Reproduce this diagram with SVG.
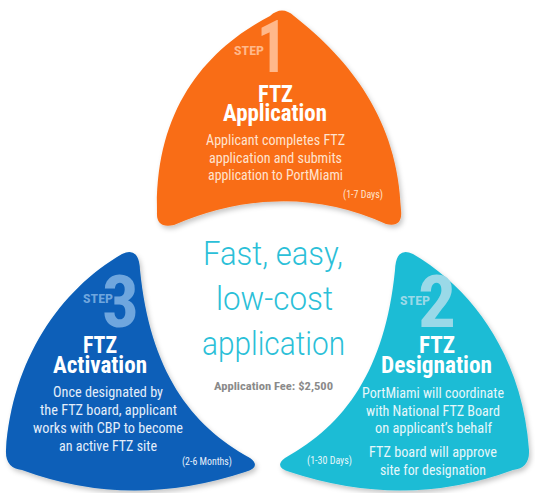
<svg xmlns="http://www.w3.org/2000/svg" width="535" height="493" viewBox="0 0 535 493">
  <style>
    .n { font-family: "Liberation Sans Narrow", "Roboto Condensed", "DejaVu Sans Condensed", "Liberation Sans", sans-serif; }
    .step { font-weight: bold; font-size: 12px; }
    .num { font-weight: bold; font-size: 72px; }
    .title { font-weight: bold; font-size: 24px; fill: #ffffff; text-anchor: middle; }
    .body { font-size: 14.5px; text-anchor: middle; }
    .days { font-size: 10px; }
    .big { font-family: Roboto, "Liberation Sans", sans-serif; font-weight: 300; font-size: 34px; fill: #2bbfd8; text-anchor: middle; }
    .fee { font-weight: bold; font-size: 11.5px; fill: #8a8a8a; text-anchor: middle; }
  </style>
  <defs>
    <filter id="sh" x="-10%" y="-10%" width="125%" height="125%">
      <feDropShadow dx="2" dy="3" stdDeviation="2.5" flood-color="#000" flood-opacity="0.22"/>
    </filter>
  </defs>
  <rect width="535" height="493" fill="#ffffff"/>

  <g id="step1">
    <path filter="url(#sh)" fill="#f96d14" d="M 270 16 Q 282 5 294 16 C 350 60 398 120 401 210 Q 403 228 386 224 Q 285 178 174 225 Q 156 229 157 212 C 155 110 205 50 270 16 Z"/>
    <text class="n step" x="234" y="55" fill="#ffb88a" textLength="30" lengthAdjust="spacingAndGlyphs">STEP</text>
    <text class="n num" x="257" y="72" fill="#ffb88a" textLength="30" lengthAdjust="spacingAndGlyphs">1</text>
    <text class="n title" x="275.5" y="102" textLength="35" lengthAdjust="spacingAndGlyphs">FTZ</text>
    <text class="n title" x="275" y="121" textLength="104" lengthAdjust="spacingAndGlyphs">Application</text>
    <text class="n body" x="275.5" y="145" fill="#ffe3cf" textLength="139" lengthAdjust="spacingAndGlyphs">Applicant completes FTZ</text>
    <text class="n body" x="275.5" y="162.5" fill="#ffe3cf" textLength="133" lengthAdjust="spacingAndGlyphs">application and submits</text>
    <text class="n body" x="275.5" y="180" fill="#ffe3cf" textLength="135" lengthAdjust="spacingAndGlyphs">application to PortMiami</text>
    <text class="n days" x="343" y="198" fill="#ffe3cf" textLength="40" lengthAdjust="spacingAndGlyphs">(1-7 Days)</text>
  </g>

  <g id="step3">
    <path filter="url(#sh)" fill="#085eb8" d="M 122 254 C 60 290 12 360 6 450 Q 5 468 22 470 Q 130 510 245 472 Q 262 467 250 458 C 190 425 150 370 140 270 Q 139 246 122 254 Z"/>
    <text class="n step" x="83" y="303" fill="#6fa6de" textLength="30" lengthAdjust="spacingAndGlyphs">STEP</text>
    <text class="n num" x="102" y="327" fill="#6fa6de" textLength="37" lengthAdjust="spacingAndGlyphs">3</text>
    <text class="n title" x="100" y="353" textLength="34" lengthAdjust="spacingAndGlyphs">FTZ</text>
    <text class="n title" x="100" y="373" textLength="94" lengthAdjust="spacingAndGlyphs">Activation</text>
    <text class="n body" x="108" y="397" fill="#e4eefa" textLength="110" lengthAdjust="spacingAndGlyphs">Once designated by</text>
    <text class="n body" x="108.5" y="415" fill="#e4eefa" textLength="137" lengthAdjust="spacingAndGlyphs">the FTZ board, applicant</text>
    <text class="n body" x="108" y="433" fill="#e4eefa" textLength="150" lengthAdjust="spacingAndGlyphs">works with CBP to become</text>
    <text class="n body" x="108" y="451" fill="#e4eefa" textLength="98" lengthAdjust="spacingAndGlyphs">an active FTZ site</text>
    <text class="n days" x="182" y="465" fill="#e4eefa" textLength="50" lengthAdjust="spacingAndGlyphs">(2-6 Months)</text>
  </g>

  <g id="step2">
    <path filter="url(#sh)" fill="#1fbcd5" d="M 413 254 C 475 290 523 360 529 450 Q 530 468 513 470 Q 405 510 290 472 Q 273 467 285 458 C 345 425 385 370 395 270 Q 396 246 413 254 Z"/>
    <text class="n step" x="400" y="305" fill="#9ad9e8" textLength="30" lengthAdjust="spacingAndGlyphs">STEP</text>
    <text class="n num" x="418" y="327" fill="#9ad9e8" textLength="38" lengthAdjust="spacingAndGlyphs">2</text>
    <text class="n title" x="437" y="353" textLength="36" lengthAdjust="spacingAndGlyphs">FTZ</text>
    <text class="n title" x="436.5" y="373" textLength="111" lengthAdjust="spacingAndGlyphs">Designation</text>
    <text class="n body" x="433" y="398" fill="#e6f7fb" textLength="142" lengthAdjust="spacingAndGlyphs">PortMiami will coordinate</text>
    <text class="n body" x="433" y="415.5" fill="#e6f7fb" textLength="134" lengthAdjust="spacingAndGlyphs">with National FTZ Board</text>
    <text class="n body" x="433.5" y="433" fill="#e6f7fb" textLength="117" lengthAdjust="spacingAndGlyphs">on applicant’s behalf</text>
    <text class="n body" x="433" y="457" fill="#e6f7fb" textLength="128" lengthAdjust="spacingAndGlyphs">FTZ board will approve</text>
    <text class="n body" x="433" y="475" fill="#e6f7fb" textLength="106" lengthAdjust="spacingAndGlyphs">site for designation</text>
    <text class="n days" x="307" y="464" fill="#e6f7fb" textLength="45" lengthAdjust="spacingAndGlyphs">(1-30 Days)</text>
  </g>

  <g id="center">
    <text class="big" x="273" y="265" textLength="140" lengthAdjust="spacingAndGlyphs">Fast, easy,</text>
    <text class="big" x="274.5" y="310" textLength="117" lengthAdjust="spacingAndGlyphs">low-cost</text>
    <text class="big" x="273.5" y="355" textLength="143" lengthAdjust="spacingAndGlyphs">application</text>
    <text class="n fee" x="273.5" y="390" textLength="119" lengthAdjust="spacingAndGlyphs">Application Fee: $2,500</text>
  </g>
</svg>
